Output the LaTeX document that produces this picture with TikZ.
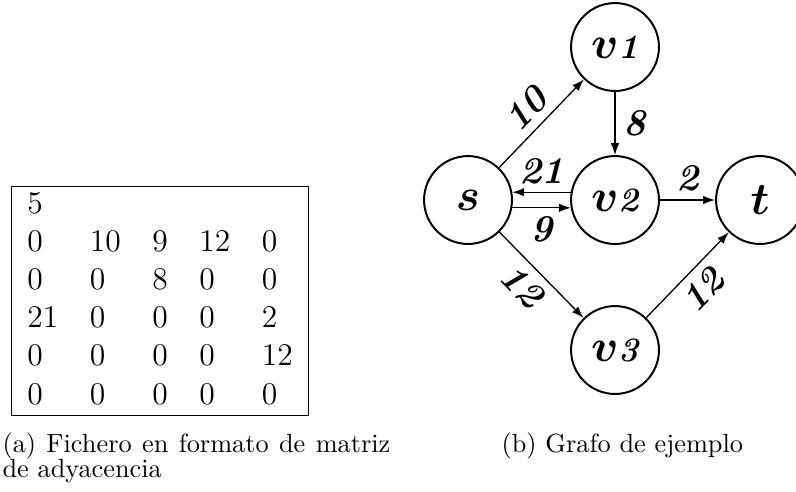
\documentclass[tikz,border=0pt]{standalone}
\usepackage{fontspec}
\usetikzlibrary{arrows.meta}

\newcommand{\cifra}[1]{{\bfseries\itshape\addfontfeatures{Numbers=OldStyle}#1}}
\newcommand{\etiq}[2]{{\fontsize{17}{17}\selectfont\boldmath$#1$}{\fontsize{13}{13}\selectfont\cifra{#2}}}

\begin{document}
\begin{tikzpicture}[
            x=0.38pt,
            y=-0.38pt,
            vertice/.style={
                circle,
                draw,
                line width=0.75pt,
                minimum size=33.4pt,
                inner sep=0pt
            },
            peso/.style={
                font=\fontsize{14.4}{16}\selectfont,
                inner sep=3pt
            },
            arista/.style={
                line width=0.5pt,
                -{Latex[length=4.5pt,width=3.2pt]}
            }
        ]
            \useasboundingbox (0,0) rectangle (796,491);

            \node[draw, line width=0.4pt, inner sep=0pt, anchor=north west] (matriz) at (11,186) {%
                \fontsize{12}{14.5}\selectfont
                \begin{tabular}{lllll}
                    5  &    &   &    &    \\
                    0  & 10 & 9 & 12 & 0  \\
                    0  & 0  & 8 & 0  & 0  \\
                    21 & 0  & 0 & 0  & 2  \\
                    0  & 0  & 0 & 0  & 12 \\
                    0  & 0  & 0 & 0  & 0
                \end{tabular}};
            \node[anchor=base west, text width=147.4pt, align=justify, inner sep=0pt,
                font=\fontsize{10}{9.8}\selectfont] (capa) at (2,452)
                {(a) Fichero en formato de matriz de adyacencia};

            \node[vertice] (v1) at (615,47) {\etiq{v}{1}};
            \node[vertice] (s) at (468,200) {\etiq{s}{}};
            \node[vertice] (v2) at (615,200) {\etiq{v}{2}};
            \node[vertice] (t) at (760,200) {\etiq{t}{}};
            \node[vertice] (v3) at (615,350) {\etiq{v}{3}};

            \draw[arista] (s) -- node[peso, above, sloped] {\cifra{10}} (v1);
            \draw[arista] (v1) -- node[peso, right] {\cifra{8}} (v2);
            \draw[arista] (v2.170) -- node[peso, above] {\cifra{21}} (s.10);
            \draw[arista] (s.-10) -- node[peso, below] {\cifra{9}} (v2.190);
            \draw[arista] (v2) -- node[peso, above] {\cifra{2}} (t);
            \draw[arista] (s) -- node[peso, below, sloped, pos=0.45] {\cifra{12}} (v3);
            \draw[arista] (v3) -- node[peso, below, sloped] {\cifra{12}} (t);

            \node[anchor=base west, inner sep=0pt] (capb) at (501,452) {(b) Grafo de ejemplo};
        \end{tikzpicture}
\end{document}
